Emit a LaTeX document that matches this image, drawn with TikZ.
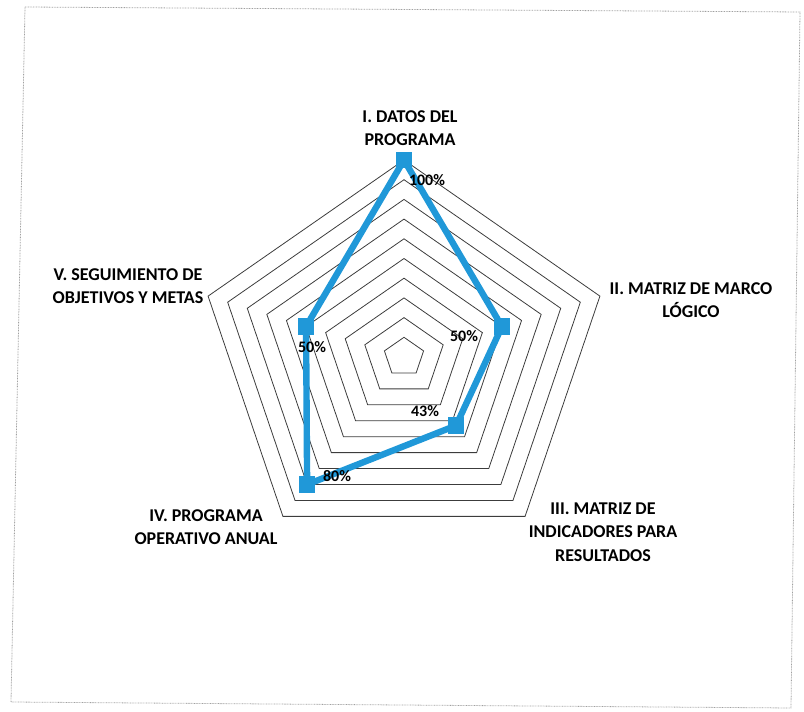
\documentclass[tikz,border=0pt]{standalone}
\usepackage{fontspec}
\setmainfont{Carlito}

\tikzset{every picture/.style={line width=0.75pt}}
\tikzset{
  ringline/.style={color={rgb, 255:red, 60; green, 60; blue, 60 },line width=0.6},
  dataline/.style={color={rgb, 255:red, 32; green, 152; blue, 216 },line width=4.8,line join=round},
  sqmark/.style={rectangle,fill={rgb, 255:red, 32; green, 152; blue, 216 },minimum size=11.6pt,inner sep=0pt},
  axislabel/.style={inner sep=0.75pt,align=center,font=\bfseries\fontsize{13.5}{17.6}\selectfont},
  pctlabel/.style={inner sep=0.75pt,font=\bfseries\fontsize{12}{14}\selectfont},
  scanframe/.style={color={rgb, 255:red, 160; green, 160; blue, 160 },line width=0.6,dash pattern=on 0.6pt off 0.6pt}
}

\begin{document}
\begin{tikzpicture}[x=0.75pt,y=0.75pt,yscale=-1,xscale=1]
\useasboundingbox (0,0) rectangle (804,712);

%Shape: Frame [id:frame]
\draw [scanframe] (25,7) -- (800,12) -- (791,708) -- (11,702) -- cycle ;

\begin{scope}[shift={(404,357)},xscale=20.6,yscale=-19.7]
%Shape: Pentagon rings
\foreach \r in {1,...,10}
  \draw [ringline] (90:\r) -- (18:\r) -- (-54:\r) -- (-126:\r) -- (162:\r) -- cycle ;

%Data points
\node [sqmark] (pI) at (90:10) {};
\node [sqmark] (pII) at (18:5) {};
\node [sqmark] (pIII) at (-54:4.3) {};
\node [sqmark] (pIV) at (-126:8) {};
\node [sqmark] (pV) at (162:5) {};
\end{scope}

%Data line
\draw [dataline] (pI.center) -- (pII.center) -- (pIII.center) -- (pIV.center) -- (pV.center) -- cycle ;
\foreach \p in {pI,pII,pIII,pIV,pV}
  \fill [color={rgb, 255:red, 32; green, 152; blue, 216 }] (\p.north west) rectangle (\p.south east) ;

% Text Node
\node (vI) at (427,180) [pctlabel] {100\%};
% Text Node
\node (vII) at (464,336) [pctlabel] {50\%};
% Text Node
\node (vIII) at (425,411) [pctlabel] {43\%};
% Text Node
\node (vIV) at (337,476) [pctlabel] {80\%};
% Text Node
\node (vV) at (312,347) [pctlabel] {50\%};

% Text Node
\node (lI) at (410,128) [axislabel] {I. DATOS DEL\\PROGRAMA};
% Text Node
\node (lII) at (691,300) [axislabel] {II. MATRIZ DE MARCO\\LÓGICO};
% Text Node
\node (lIII) at (603,532) [axislabel] {III. MATRIZ DE\\INDICADORES PARA\\RESULTADOS};
% Text Node
\node (lIV) at (206,527) [axislabel] {IV. PROGRAMA\\OPERATIVO ANUAL};
% Text Node
\node (lV) at (128,286) [axislabel] {V. SEGUIMIENTO DE\\OBJETIVOS Y METAS};

\end{tikzpicture}
\end{document}
